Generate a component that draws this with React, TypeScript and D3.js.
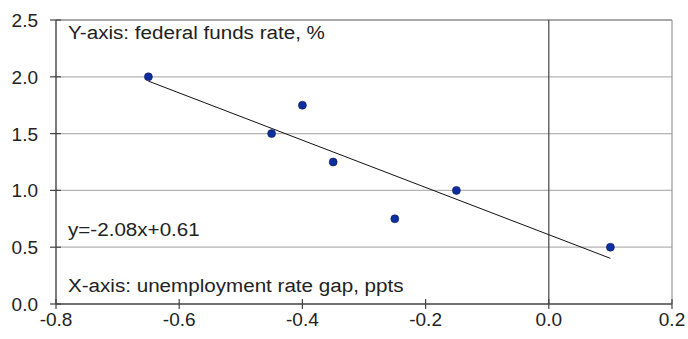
import React from "react";
import * as d3 from "d3";

// Unemployment rate gap (ppts) vs federal funds rate (%)
const gapValues = [-0.65, -0.45, -0.4, -0.35, -0.25, -0.15, 0.1];
const rateValues = [2.0, 1.5, 1.75, 1.25, 0.75, 1.0, 0.5];
const xTicks = [-0.8, -0.6, -0.4, -0.2, 0.0, 0.2];
const yTicks = [0, 0.5, 1.0, 1.5, 2.0, 2.5];
const slope = -2.08;
const intercept = 0.61;
const fitRange = [-0.65, 0.1];

const W = 688;
const H = 339;
const left = 56;
const right = 672;
const top = 20;
const bottom = 304;
const FONT = "'Liberation Sans', Arial, Helvetica, sans-serif";
const FS = 19;
const NOTE_STRETCH = 1.085;

function Note({ x, y, children }: { x: number; y: number; children: React.ReactNode }) {
  return (
    <text transform={`translate(${x},${y}) scale(${NOTE_STRETCH},1)`} fontSize={FS} fill="#222">
      {children}
    </text>
  );
}

export default function App() {
  const x = d3.scaleLinear().domain([-0.8, 0.2]).range([left, right]);
  const y = d3.scaleLinear().domain([0, 2.5]).range([bottom, top]);
  const fit = d3
    .line<number>()
    .x((d) => x(d))
    .y((d) => y(slope * d + intercept));

  return (
    <svg
      width={W}
      height={H}
      style={{ position: "absolute", left: 0, top: 0, background: "#fff" }}
      fontFamily={FONT}
    >
      {/* horizontal gridlines */}
      {yTicks
        .filter((t) => t > 0 && t < 2.5)
        .map((t) => (
          <line key={"g" + t} x1={left} x2={right} y1={y(t)} y2={y(t)} stroke="#b4b4b4" strokeWidth={1.2} />
        ))}
      {/* plot frame */}
      <line x1={left} x2={right} y1={top} y2={top} stroke="#555" strokeWidth={1.2} />
      <line x1={right} x2={right} y1={top} y2={bottom} stroke="#999" strokeWidth={1.2} />
      {/* zero line */}
      <line x1={x(0)} x2={x(0)} y1={top} y2={bottom} stroke="#444" strokeWidth={1.2} />
      {/* axes */}
      <line x1={left} x2={left} y1={top} y2={bottom} stroke="#444" strokeWidth={1.4} />
      <line x1={left} x2={right} y1={bottom} y2={bottom} stroke="#444" strokeWidth={1.4} />
      {yTicks.map((t) => (
        <g key={"y" + t}>
          <line x1={left - 6} x2={left + 5} y1={y(t)} y2={y(t)} stroke="#444" strokeWidth={1.2} />
          <text x={38} y={y(t) + 7} textAnchor="end" fontSize={FS} fill="#222">
            {t.toFixed(1)}
          </text>
        </g>
      ))}
      {xTicks.map((t) => (
        <g key={"x" + t}>
          <line x1={x(t)} x2={x(t)} y1={bottom - 5} y2={bottom + 5} stroke="#444" strokeWidth={1.2} />
          <text x={x(t)} y={326} textAnchor="middle" fontSize={FS} fill="#222">
            {t.toFixed(1)}
          </text>
        </g>
      ))}
      {/* trend line */}
      <path d={fit(fitRange) || ""} fill="none" stroke="#111" strokeWidth={1} />
      {/* observations */}
      {gapValues.map((g, i) => (
        <circle key={i} cx={x(g)} cy={y(rateValues[i])} r={4} fill="#0b2f9e" stroke="#1a1a50" strokeWidth={0.6} />
      ))}
      {/* annotations */}
      <Note x={68} y={38.5}>Y-axis: federal funds rate, %</Note>
      <Note x={68} y={236}>y=-2.08x+0.61</Note>
      <Note x={68} y={291.5}>X-axis: unemployment rate gap, ppts</Note>
    </svg>
  );
}
